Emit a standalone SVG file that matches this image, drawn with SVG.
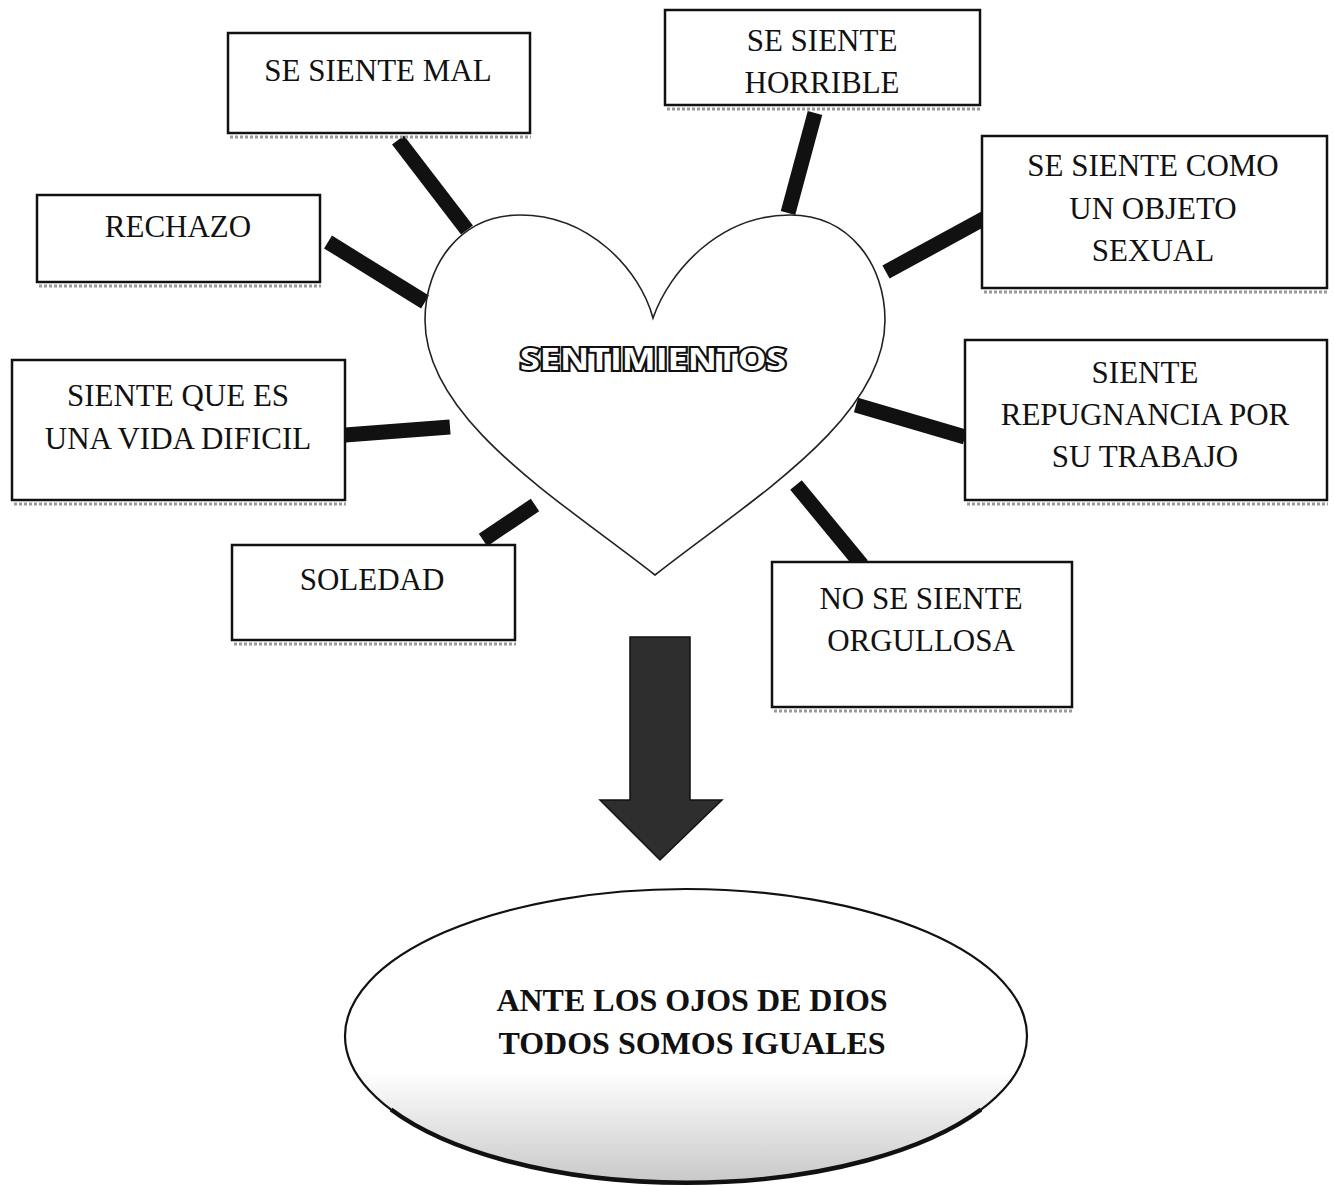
<svg xmlns="http://www.w3.org/2000/svg" width="1334" height="1186" viewBox="0 0 1334 1186">
<defs>
<style>
.box{fill:#fff;stroke:#111;stroke-width:2.5}
.sh{fill:none;stroke:#9a9a9a;stroke-width:3;stroke-dasharray:3 2}
.t{font-family:"Liberation Serif","Times New Roman",serif;font-size:31px;fill:#111;text-anchor:middle}
.tb{font-family:"Liberation Serif","Times New Roman",serif;font-size:32px;font-weight:bold;fill:#111;text-anchor:middle}
.bar{stroke:#111;stroke-width:15;stroke-linecap:butt}
</style>
<linearGradient id="eg" x1="0" y1="0" x2="0" y2="1">
<stop offset="0" stop-color="#fff"/>
<stop offset="0.62" stop-color="#fff"/>
<stop offset="1" stop-color="#c8c8c8"/>
</linearGradient>
</defs>
<rect width="1334" height="1186" fill="#fff"/>

<g id="connectors">
<line class="bar" x1="398" y1="140" x2="467" y2="230"/>
<line class="bar" x1="815" y1="113" x2="788" y2="213"/>
<line class="bar" x1="328" y1="242" x2="425" y2="302"/>
<line class="bar" x1="985" y1="218" x2="886" y2="272"/>
<line class="bar" x1="345" y1="435" x2="450" y2="427"/>
<line class="bar" x1="856" y1="405" x2="965" y2="437"/>
<line class="bar" x1="483" y1="540" x2="535" y2="505"/>
<line class="bar" x1="796" y1="485" x2="862" y2="565"/>
</g>

<g id="heart">
<path d="M653,318 C640,270 590,215 520,215 C460,215 425,265 425,320 C425,420 560,500 655,575 C750,500 885,420 885,320 C885,265 850,215 790,215 C720,215 670,270 653,318 Z" fill="none" stroke="#222" stroke-width="1.6"/>
<text x="653" y="370" font-family="'Open Sans','DejaVu Sans',sans-serif" font-weight="bold" font-size="30" text-anchor="middle" fill="#fff" stroke="#111" stroke-width="4" paint-order="stroke" textLength="266" lengthAdjust="spacingAndGlyphs">SENTIMIENTOS</text>
</g>

<g id="n-mal">
<line class="sh" x1="230" y1="137" x2="531" y2="137"/>
<rect class="box" x="228" y="33" width="302" height="100"/>
<text class="t" x="378" y="81">SE SIENTE MAL</text>
</g>
<g id="n-horrible">
<line class="sh" x1="667" y1="109" x2="981" y2="109"/>
<rect class="box" x="665" y="10" width="315" height="95"/>
<text class="t" x="822" y="51">SE SIENTE</text>
<text class="t" x="822" y="93">HORRIBLE</text>
</g>
<g id="n-rechazo">
<line class="sh" x1="39" y1="286" x2="321" y2="286"/>
<rect class="box" x="37" y="195" width="283" height="87"/>
<text class="t" x="178" y="237">RECHAZO</text>
</g>
<g id="n-objeto">
<line class="sh" x1="984" y1="292" x2="1328" y2="292"/>
<rect class="box" x="982" y="136" width="345" height="152"/>
<text class="t" x="1153" y="176">SE SIENTE COMO</text>
<text class="t" x="1153" y="219">UN OBJETO</text>
<text class="t" x="1153" y="261">SEXUAL</text>
</g>
<g id="n-vida">
<line class="sh" x1="14" y1="504" x2="346" y2="504"/>
<rect class="box" x="12" y="360" width="333" height="140"/>
<text class="t" x="178" y="406">SIENTE QUE ES</text>
<text class="t" x="178" y="449">UNA VIDA DIFICIL</text>
</g>
<g id="n-repugnancia">
<line class="sh" x1="967" y1="504" x2="1328" y2="504"/>
<rect class="box" x="965" y="340" width="362" height="160"/>
<text class="t" x="1145" y="383">SIENTE</text>
<text class="t" x="1145" y="425">REPUGNANCIA POR</text>
<text class="t" x="1145" y="467">SU TRABAJO</text>
</g>
<g id="n-soledad">
<line class="sh" x1="234" y1="644" x2="516" y2="644"/>
<rect class="box" x="232" y="545" width="283" height="95"/>
<text class="t" x="372" y="590">SOLEDAD</text>
</g>
<g id="n-orgullosa">
<line class="sh" x1="774" y1="711" x2="1073" y2="711"/>
<rect class="box" x="772" y="562" width="300" height="145"/>
<text class="t" x="921" y="609">NO SE SIENTE</text>
<text class="t" x="921" y="651">ORGULLOSA</text>
</g>

<g id="arrow">
<path d="M630,637 L690,637 L690,800 L722,800 L660,860 L600,800 L630,800 Z" fill="#2e2e2e" stroke="#111" stroke-width="1.5"/>
</g>

<g id="n-dios">
<ellipse cx="686" cy="1036" rx="341" ry="147" fill="url(#eg)" stroke="#111" stroke-width="2.2"/>
<path d="M391,1109.5 A341,147 0 0 0 981,1109.5" fill="none" stroke="#111" stroke-width="4.5"/>
<text class="tb" x="692" y="1011">ANTE LOS OJOS DE DIOS</text>
<text class="tb" x="692" y="1054">TODOS SOMOS IGUALES</text>
</g>
</svg>
